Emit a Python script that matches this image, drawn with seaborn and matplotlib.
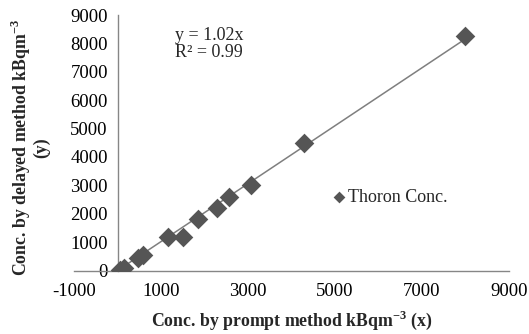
import numpy as np
import pandas as pd
import matplotlib.pyplot as plt
import seaborn as sns

# values
PROMPT = [50, 150, 460, 580, 1170, 1500, 1840, 2280, 2560, 3080, 4280, 7990]
DELAYED = [20, 100, 430, 540, 1180, 1180, 1820, 2200, 2590, 3020, 4490, 8270]
SLOPE = 1.02
R2 = 0.99
X_TICKS = [-1000, 1000, 3000, 5000, 7000, 9000]
Y_TICKS = [0, 1000, 2000, 3000, 4000, 5000, 6000, 7000, 8000, 9000]

AXIS_GREY = '#868686'
MARK_GREY = '#555555'
LINE_GREY = '#7f7f7f'


def create_dataframe() -> pd.DataFrame:
    """Builds the scatter dataframe"""
    df = pd.DataFrame({'Prompt': PROMPT, 'Delayed': DELAYED})
    return df


def trend_dataframe() -> pd.DataFrame:
    """Linear trend through origin over the data range"""
    df = create_dataframe()
    x_fit = np.array([0, df['Prompt'].max()])
    return pd.DataFrame({'Prompt': x_fit, 'Delayed': SLOPE * x_fit})


def make_plot() -> None:
    sns.set_style('white')
    plt.rcParams['font.family'] = ['Liberation Serif', 'DejaVu Serif']
    plt.rcParams['mathtext.fontset'] = 'custom'
    plt.rcParams['mathtext.rm'] = 'Liberation Serif'
    plt.rcParams['mathtext.bf'] = 'Liberation Serif:bold'
    plt.rcParams['axes.unicode_minus'] = False

    df = create_dataframe()
    trend = trend_dataframe()

    fig = plt.figure(figsize=(5.29, 3.34), dpi=100)
    ax = fig.add_axes([0.14, 0.19, 0.822, 0.765])

    sns.lineplot(data=trend, x='Prompt', y='Delayed', color=LINE_GREY,
                 linewidth=1.1, ax=ax, legend=False, zorder=2)
    sns.scatterplot(data=df, x='Prompt', y='Delayed', marker='D', s=100,
                    color=MARK_GREY, edgecolor=MARK_GREY, linewidth=0,
                    label='Thoron Conc.', ax=ax, zorder=3)

    ax.set_xlim(-1000, 9000)
    ax.set_ylim(0, 9000)
    ax.set_xticks(X_TICKS)
    ax.set_yticks(Y_TICKS)

    for side in ['top', 'right']:
        ax.spines[side].set_visible(False)
    ax.spines['left'].set_position(('data', 0))
    for side in ['left', 'bottom']:
        ax.spines[side].set_color(AXIS_GREY)
        ax.spines[side].set_linewidth(1.0)

    ax.tick_params(axis='both', direction='out', length=4, width=1,
                   color=AXIS_GREY, labelsize=13.5, labelcolor='black', pad=3)
    ax.tick_params(axis='x', pad=5)

    ax.set_xlabel('Conc. by prompt method kBqm$^{\\mathbf{-3}}$ (x)',
                  fontsize=12.8, fontweight='bold', labelpad=6)
    ax.set_ylabel('Conc. by delayed method kBqm$^{\\mathbf{-3}}$\n(y)',
                  fontsize=12.8, fontweight='bold', linespacing=1.0)
    ax.yaxis.set_label_coords(-0.055, 0.48)

    ax.text(0.232, 0.955, f'y = {SLOPE:.2f}x\nR² = {R2:.2f}',
            transform=ax.transAxes, fontsize=13, va='top', ha='left',
            linespacing=1.0)

    ax.legend(loc='center left', bbox_to_anchor=(0.56, 0.285), frameon=False,
              fontsize=13, handlelength=0.6, handletextpad=0.2,
              markerscale=0.6)

    plt.savefig('out.png', dpi=100)
    plt.close(fig)


if __name__ == '__main__':
    make_plot()
